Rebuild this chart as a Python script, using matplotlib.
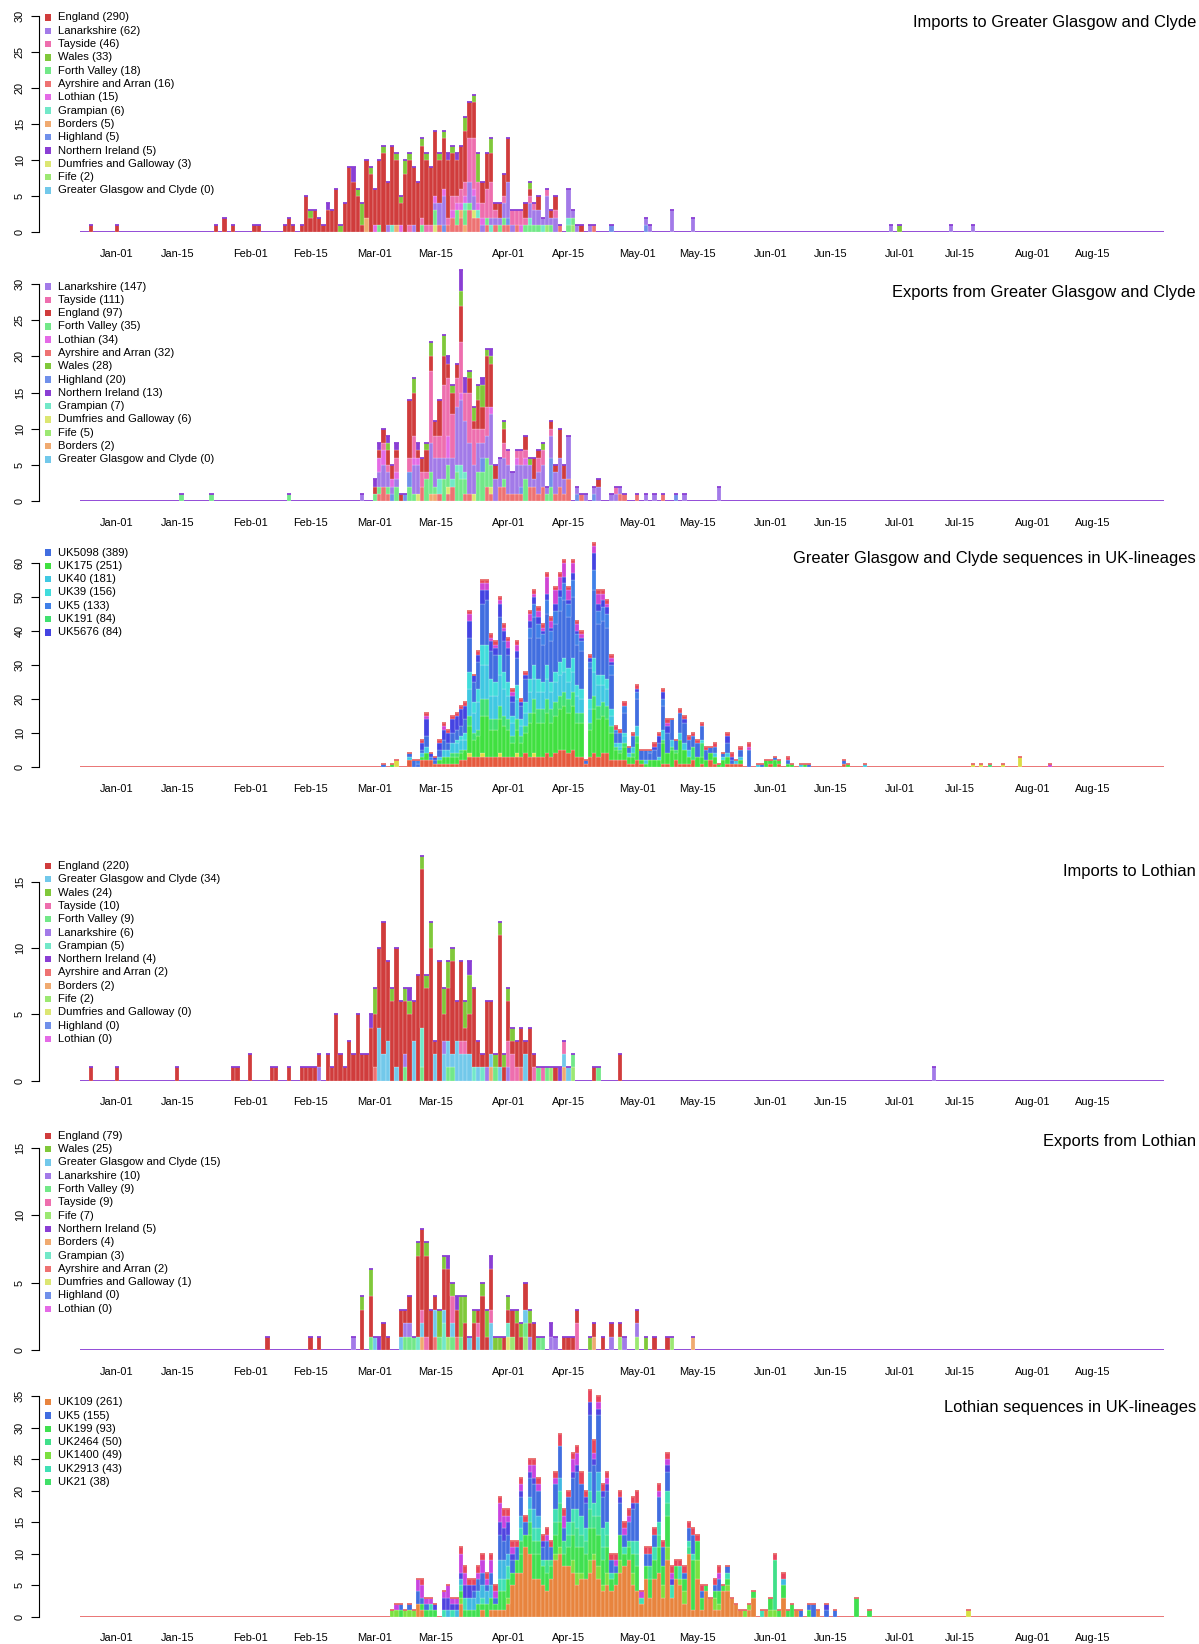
import numpy as np
import matplotlib
matplotlib.use("Agg")
import matplotlib.pyplot as plt
from matplotlib.patches import Rectangle

plt.rcParams['font.family'] = ['Liberation Sans', 'DejaVu Sans']

# ---------------- axis / labels data ----------------
tick_days = [0, 14, 31, 45, 60, 74, 91, 105, 121, 135, 152, 166, 182, 196, 213, 227]
tick_labels = ['Jan-01', 'Jan-15', 'Feb-01', 'Feb-15', 'Mar-01', 'Mar-15', 'Apr-01', 'Apr-15',
               'May-01', 'May-15', 'Jun-01', 'Jun-15', 'Jul-01', 'Jul-15', 'Aug-01', 'Aug-15']
DAY0, DAY1 = -8, 243   # day 0 = Jan-01 (2020)

titles = ["Imports to Greater Glasgow and Clyde",
          "Exports from Greater Glasgow and Clyde",
          "Greater Glasgow and Clyde sequences in UK-lineages",
          "Imports to Lothian",
          "Exports from Lothian",
          "Lothian sequences in UK-lineages"]

# ---------------- panel 1: imports to GGC (day: count) ----------------
p1_england = {-6: 1, 0: 1, 23: 1, 25: 2, 27: 1, 32: 1, 33: 1, 39: 1, 40: 2, 41: 1, 43: 1, 44: 5, 45: 2, 46: 3,
              47: 2, 48: 1, 49: 3, 50: 3, 51: 6, 53: 4, 54: 9, 55: 7, 56: 5, 57: 1, 58: 8, 59: 8, 60: 5, 61: 9,
              62: 11, 63: 6, 64: 11, 65: 9, 66: 3, 67: 8, 68: 9, 69: 8, 70: 7, 71: 10, 72: 9, 73: 8, 74: 9,
              75: 6, 76: 7, 77: 8, 78: 6, 79: 5, 80: 6, 81: 7, 82: 5, 83: 5, 85: 3, 86: 5, 87: 4, 88: 1, 89: 2,
              90: 3, 91: 6, 95: 2, 96: 1, 98: 2, 101: 1, 102: 2, 108: 1}
p1_lanarkshire = {63: 1, 69: 1, 74: 1, 75: 3, 76: 4, 82: 3, 83: 2, 85: 1, 87: 1, 88: 1, 89: 1, 90: 2, 91: 5,
                  92: 1, 96: 2, 97: 2, 98: 2, 99: 1, 100: 4, 101: 1, 102: 2, 105: 4, 106: 1, 107: 1, 110: 1,
                  123: 1, 124: 1, 129: 3, 134: 2, 180: 1, 194: 1, 199: 1}
p1_tayside = {68: 1, 71: 1, 72: 1, 73: 1, 77: 1, 78: 2, 79: 1, 80: 2, 81: 2, 82: 6, 83: 7, 84: 3, 85: 2, 86: 4,
              87: 5, 88: 1, 90: 1, 92: 2, 93: 2, 94: 2, 95: 1, 96: 1, 97: 1, 100: 1, 102: 1}
p1_wales = {45: 1, 52: 1, 56: 1, 57: 3, 59: 1, 62: 1, 65: 1, 66: 1, 67: 2, 68: 1, 71: 1, 72: 1, 75: 1, 76: 1,
            78: 1, 81: 2, 83: 1, 84: 4, 87: 2, 96: 1, 182: 1}
p1_forth_valley = {61: 1, 71: 1, 74: 2, 79: 2, 81: 2, 82: 1, 86: 1, 89: 1, 90: 1, 95: 1, 96: 1, 97: 1, 98: 1,
                   101: 1, 105: 1, 106: 1}
p1_ayrshire = {75: 1, 77: 1, 78: 2, 79: 1, 80: 2, 82: 3, 83: 2, 84: 2, 86: 1, 88: 1, 90: 1, 91: 1, 93: 1,
               103: 1, 111: 1}
p1_lothian = {60: 1, 66: 1, 74: 1, 76: 1, 78: 1, 79: 1, 80: 1, 81: 1, 83: 1, 84: 1, 85: 1, 94: 1}
p1_grampian = {64: 1, 81: 1, 84: 1, 87: 1, 96: 1, 99: 1, 105: 1}
p1_borders = {58: 2, 65: 1, 80: 1, 81: 1}
p1_highland = {76: 1, 91: 1, 115: 1, 123: 1}
p1_nireland = {49: 1, 55: 2, 77: 1, 79: 1}
p1_dumfries = {74: 1, 83: 1}
p1_fife = {100: 1, 106: 1}
p1_ggc = {}
p1_legend = ['England', 'Lanarkshire', 'Tayside', 'Wales', 'Forth Valley', 'Ayrshire and Arran', 'Lothian',
             'Grampian', 'Borders', 'Highland', 'Northern Ireland', 'Dumfries and Galloway', 'Fife',
             'Greater Glasgow and Clyde']
p1_counts = [290, 62, 46, 33, 18, 16, 15, 6, 5, 5, 5, 3, 2, 0]

# ---------------- panel 2: exports from GGC ----------------
p2_lanarkshire = {57: 1, 61: 2, 62: 3, 63: 2, 64: 1, 65: 1, 69: 4, 70: 4, 73: 4, 74: 4, 75: 3, 76: 3, 77: 1,
                  78: 3, 79: 8, 80: 9, 81: 7, 82: 7, 83: 4, 84: 4, 85: 2, 86: 3, 87: 7, 88: 3, 89: 4, 90: 3,
                  91: 4, 92: 3, 93: 4, 94: 3, 95: 2, 96: 3, 97: 1, 98: 3, 99: 3, 100: 1, 101: 3, 102: 3,
                  103: 4, 104: 2, 105: 6, 107: 1, 109: 1, 111: 1, 112: 2, 115: 1, 116: 1, 117: 1, 123: 1,
                  125: 1, 132: 1, 140: 2}
p2_tayside = {62: 1, 63: 1, 65: 2, 68: 2, 69: 3, 71: 2, 72: 1, 73: 10, 74: 3, 75: 3, 76: 10, 77: 8, 78: 6,
              79: 4, 80: 7, 81: 4, 82: 7, 83: 5, 84: 2, 85: 2, 86: 4, 90: 2, 91: 2, 93: 1, 94: 2, 95: 1,
              98: 2, 99: 2, 101: 1, 116: 1}
p2_england = {60: 1, 61: 1, 62: 2, 63: 2, 64: 2, 65: 1, 66: 1, 68: 8, 69: 6, 70: 1, 71: 2, 72: 3, 73: 2,
              74: 2, 75: 5, 76: 4, 77: 2, 78: 3, 79: 2, 80: 5, 82: 2, 83: 1, 84: 4, 85: 3, 86: 7, 87: 6,
              88: 2, 90: 2, 95: 2, 97: 3, 98: 1, 101: 1, 102: 1, 103: 4, 104: 2, 112: 1}
p2_forth_valley = {15: 1, 22: 1, 40: 1, 60: 1, 61: 1, 63: 1, 65: 2, 68: 2, 69: 1, 72: 3, 73: 3, 74: 1,
                   76: 3, 77: 3, 79: 4, 80: 3, 81: 2, 84: 4, 85: 4, 86: 4, 87: 3, 90: 1, 95: 3, 100: 1,
                   101: 2}
p2_lothian = {61: 2, 62: 2, 64: 1, 65: 1, 69: 1, 70: 1, 77: 3, 80: 1, 87: 1, 93: 1, 95: 1}
p2_ayrshire = {61: 1, 62: 2, 63: 1, 71: 2, 75: 1, 77: 1, 78: 2, 81: 1, 82: 1, 86: 2, 87: 1, 89: 2, 90: 2,
               91: 1, 92: 1, 93: 1, 94: 1, 96: 2, 97: 2, 98: 1, 99: 2, 102: 1, 103: 2, 104: 1, 105: 3,
               108: 1, 117: 1, 118: 1, 121: 1, 127: 1}
p2_wales = {63: 1, 69: 2, 72: 1, 73: 2, 76: 3, 78: 1, 80: 2, 82: 1, 83: 2, 84: 2, 85: 3, 86: 1, 87: 1,
            90: 1, 96: 1, 99: 1}
p2_highland = {64: 1, 67: 1, 68: 2, 85: 2, 94: 1, 101: 4, 107: 1, 111: 1, 130: 1}
p2_nireland = {60: 1, 61: 1, 63: 1, 65: 1, 70: 1, 77: 1, 80: 3, 81: 2, 85: 1, 87: 1}
p2_grampian = {75: 2, 78: 1, 79: 1, 80: 2, 81: 1}
p2_dumfries = {70: 1, 77: 1, 83: 1, 87: 1}
p2_fife = {}
p2_borders = {73: 1, 74: 1}
p2_ggc = {}
p2_legend = ['Lanarkshire', 'Tayside', 'England', 'Forth Valley', 'Lothian', 'Ayrshire and Arran', 'Wales',
             'Highland', 'Northern Ireland', 'Grampian', 'Dumfries and Galloway', 'Fife', 'Borders',
             'Greater Glasgow and Clyde']
p2_counts = [147, 111, 97, 35, 34, 32, 28, 20, 13, 7, 6, 5, 2, 0]

# ---------------- panel 3: GGC sequences in UK lineages ----------------
p3_other_low = {68: 2, 71: 2, 72: 2, 73: 2, 74: 1, 75: 1, 76: 1, 77: 1, 78: 1, 79: 1, 80: 2, 81: 2, 82: 3,
                83: 3, 84: 3, 85: 3, 86: 3, 87: 3, 88: 3, 89: 3, 90: 3, 91: 3, 92: 3, 93: 3, 94: 3, 95: 4,
                96: 3, 97: 3, 98: 3, 99: 3, 100: 4, 101: 3, 102: 4, 103: 5, 104: 5, 105: 4, 106: 5, 107: 3,
                108: 3, 109: 1, 110: 3, 111: 4, 112: 3, 113: 4, 114: 4, 115: 2, 116: 2, 117: 2, 118: 2,
                119: 1, 120: 1, 121: 2, 122: 1, 127: 1, 128: 1, 130: 2, 131: 1, 132: 1, 133: 1, 134: 2,
                136: 1, 138: 2, 139: 1, 142: 1, 143: 1, 144: 1, 145: 1, 152: 1, 154: 1, 169: 1}
p3_other_yel = {65: 2, 82: 1, 85: 1, 89: 1, 93: 1, 97: 1, 199: 1, 201: 1, 206: 1, 210: 3}
p3_uk175 = {64: 1, 71: 1, 72: 2, 75: 1, 76: 2, 77: 2, 78: 2, 79: 2, 80: 2, 81: 3, 82: 8, 83: 5, 84: 6,
            85: 11, 86: 12, 87: 8, 88: 8, 89: 10, 90: 9, 91: 8, 92: 4, 93: 7, 94: 4, 95: 6, 96: 10, 97: 12,
            98: 10, 99: 10, 100: 12, 101: 10, 102: 11, 103: 12, 104: 13, 105: 12, 106: 13, 107: 10,
            108: 10, 110: 8, 111: 13, 112: 11, 113: 11, 114: 10, 115: 8, 116: 3, 117: 2, 118: 4, 119: 2,
            120: 2, 121: 5, 122: 1, 123: 1, 124: 2, 125: 2, 126: 2, 127: 6, 128: 3, 129: 5, 130: 2,
            131: 7, 132: 4, 133: 2, 135: 3, 136: 2, 137: 2, 138: 2, 139: 2, 140: 1, 141: 2, 142: 2,
            145: 1, 151: 2, 152: 1, 153: 2, 154: 1, 156: 1, 157: 1, 160: 1, 170: 1}
p3_uk191 = {78: 1, 79: 1, 80: 1, 82: 3, 83: 2, 84: 2, 85: 5, 86: 5, 87: 3, 88: 3, 89: 4, 90: 3, 91: 3,
            92: 2, 93: 3, 94: 2, 95: 2, 96: 3, 97: 4, 98: 4, 99: 4, 100: 4, 101: 4, 102: 4, 103: 4,
            104: 4, 105: 4, 106: 4, 107: 3, 108: 3, 110: 2, 111: 4, 112: 4, 113: 4, 114: 4, 115: 2,
            116: 1, 117: 1, 118: 1, 120: 1, 121: 2, 127: 1, 129: 1, 130: 1, 134: 4, 136: 4, 203: 1}
p3_uk40 = {68: 1, 71: 1, 72: 2, 75: 1, 76: 2, 77: 2, 78: 3, 79: 3, 80: 3, 81: 3, 82: 8, 83: 6, 84: 8,
           85: 10, 86: 10, 87: 7, 88: 7, 89: 9, 90: 8, 91: 7, 92: 4, 93: 6, 94: 3, 95: 4, 96: 6, 97: 6,
           98: 5, 99: 5, 100: 6, 101: 5, 102: 6, 103: 6, 104: 6, 105: 5, 106: 6, 107: 5, 108: 4, 110: 4,
           111: 7, 112: 6, 113: 5, 114: 5, 115: 3, 116: 1, 117: 1, 118: 2, 119: 1, 120: 2, 121: 3,
           123: 1, 126: 1, 127: 3, 129: 2, 131: 2, 132: 2, 133: 2, 139: 1, 142: 1, 144: 1, 145: 1,
           149: 1, 159: 1, 174: 1}
p3_uk39 = {79: 1, 80: 1, 81: 2, 82: 5, 83: 3, 84: 4, 85: 6, 86: 6, 87: 5, 88: 4, 89: 6, 90: 5, 91: 4,
           92: 2, 93: 4, 94: 2, 95: 3, 96: 4, 97: 4, 98: 4, 99: 3, 100: 4, 101: 3, 102: 3, 103: 4,
           104: 4, 105: 4, 106: 4, 107: 3, 108: 3, 110: 3, 111: 4, 112: 3, 113: 3, 114: 3, 115: 2,
           117: 1, 118: 1, 136: 1, 141: 1}
p3_uk5098 = {62: 1, 68: 1, 69: 2, 70: 1, 71: 1, 72: 3, 74: 1, 75: 2, 76: 3, 77: 2, 78: 3, 79: 3, 80: 3,
             81: 4, 82: 10, 83: 6, 84: 8, 85: 12, 86: 13, 87: 8, 88: 8, 89: 11, 90: 9, 91: 8, 92: 4,
             93: 8, 94: 4, 95: 7, 96: 12, 97: 14, 98: 12, 99: 11, 100: 15, 101: 12, 102: 14, 103: 15,
             104: 17, 105: 15, 106: 18, 107: 12, 108: 11, 109: 1, 110: 9, 111: 20, 112: 15, 113: 16,
             114: 15, 115: 10, 116: 3, 117: 3, 118: 6, 119: 2, 120: 3, 121: 8, 122: 3, 123: 3, 124: 2,
             125: 3, 126: 4, 127: 7, 128: 6, 129: 6, 130: 3, 131: 6, 132: 6, 133: 3, 134: 3, 135: 4,
             136: 4, 137: 3, 138: 2, 139: 2, 141: 1, 142: 3, 143: 1, 145: 2, 147: 5, 150: 1, 153: 1,
             156: 1, 161: 1, 169: 1}
p3_uk5 = {70: 1, 73: 1, 96: 3, 97: 4, 98: 4, 99: 3, 100: 4, 101: 3, 102: 4, 103: 4, 104: 5, 105: 4,
          106: 5, 107: 3, 108: 3, 110: 2, 111: 6, 112: 4, 113: 4, 114: 4, 115: 3, 116: 1, 118: 2,
          121: 2, 124: 1, 127: 2}
p3_uk5676 = {71: 2, 72: 5, 73: 1, 74: 1, 75: 2, 76: 3, 77: 3, 78: 4, 79: 4, 80: 5, 81: 4, 82: 5, 83: 2,
             84: 2, 85: 4, 86: 3, 87: 3, 88: 2, 89: 4, 90: 3, 91: 2, 92: 2, 93: 2, 94: 1, 95: 1, 96: 2,
             97: 2, 98: 2, 99: 1, 100: 2, 101: 1, 102: 2, 103: 2, 104: 2, 105: 1, 106: 2, 107: 1,
             108: 1, 110: 1, 111: 5, 112: 2, 113: 2, 114: 2, 115: 1, 121: 1, 125: 1, 126: 2, 127: 2,
             128: 2, 132: 1, 142: 2, 143: 1}
p3_other_mag = {72: 1, 76: 1, 82: 2, 85: 2, 86: 2, 87: 1, 88: 1, 89: 1, 90: 1, 91: 2, 92: 1, 93: 2, 96: 2,
                97: 1, 98: 2, 99: 1, 100: 5, 101: 2, 102: 4, 103: 4, 104: 4, 105: 3, 106: 3, 107: 2,
                108: 1, 111: 2, 112: 3, 113: 2, 114: 1, 115: 1, 128: 1, 147: 1, 217: 1}
p3_other_red = {d: 1 for d in [71, 72, 75, 76, 77, 78, 79, 80, 81, 82, 84, 85, 86, 87, 88, 89, 90, 91, 92,
                               93, 94, 95, 96, 97, 98, 99, 100, 101, 102, 103, 104, 105, 106, 107, 108,
                               110, 111, 112, 113, 114, 115, 116, 117, 118, 120, 121, 125, 126, 127, 128,
                               131, 132, 133, 134, 135, 136, 137, 139, 142, 143, 145, 147, 156]}
p3_legend = ['UK5098', 'UK175', 'UK40', 'UK39', 'UK5', 'UK191', 'UK5676']
p3_counts = [389, 251, 181, 156, 133, 84, 84]

# ---------------- panel 4: imports to Lothian ----------------
p4_england = {-6: 1, 0: 1, 14: 1, 27: 1, 28: 1, 31: 2, 36: 1, 37: 1, 40: 1, 43: 1, 44: 1, 45: 1, 46: 1,
              47: 1, 49: 2, 50: 1, 51: 5, 52: 2, 53: 1, 54: 3, 55: 2, 56: 5, 57: 2, 58: 2, 59: 4, 60: 4,
              61: 6, 62: 10, 63: 6, 64: 6, 65: 9, 66: 6, 67: 4, 68: 5, 69: 3, 70: 8, 71: 12, 72: 7,
              73: 10, 74: 1, 75: 9, 76: 2, 77: 4, 78: 7, 79: 3, 80: 6, 81: 1, 82: 3, 83: 6, 84: 2, 85: 1,
              86: 5, 87: 4, 89: 10, 90: 1, 91: 3, 92: 1, 93: 2, 94: 3, 95: 1, 96: 4, 97: 1, 102: 1,
              111: 1, 117: 2}
p4_ggc = {61: 4, 62: 2, 63: 3, 65: 1, 69: 3, 74: 2, 76: 2, 77: 2, 78: 1, 79: 3, 80: 2, 81: 2, 82: 2, 84: 1,
          87: 1, 89: 1, 95: 2, 104: 1, 105: 1}
p4_wales = {60: 2, 64: 1, 67: 1, 68: 1, 71: 1, 72: 1, 73: 2, 76: 2, 77: 2, 78: 1, 81: 2, 82: 3, 88: 1,
            89: 1, 90: 1, 91: 1, 92: 1}
p4_tayside = {80: 1, 81: 1, 91: 2, 92: 2, 93: 1, 97: 1, 99: 1, 104: 1}
p4_forth_valley = {67: 1, 71: 1, 77: 1, 78: 1, 88: 1, 98: 1, 100: 1, 106: 1, 112: 1}
p4_lanarkshire = {47: 1, 67: 1, 76: 1, 86: 1, 91: 1, 190: 1}
p4_grampian = {71: 3, 83: 1, 85: 1}
p4_nireland = {59: 1, 68: 1, 82: 1, 103: 1}
p4_ayrshire = {60: 1, 94: 1}
p4_borders = {87: 1, 104: 1}
p4_fife = {101: 1, 106: 1}
p4_dumfries = {}
p4_highland = {}
p4_lothian = {}
p4_legend = ['England', 'Greater Glasgow and Clyde', 'Wales', 'Tayside', 'Forth Valley', 'Lanarkshire',
             'Grampian', 'Northern Ireland', 'Ayrshire and Arran', 'Borders', 'Fife',
             'Dumfries and Galloway', 'Highland', 'Lothian']
p4_counts = [220, 34, 24, 10, 9, 6, 5, 4, 2, 2, 2, 0, 0, 0]

# ---------------- panel 5: exports from Lothian ----------------
p5_england = {35: 1, 45: 1, 47: 1, 57: 3, 59: 3, 62: 2, 63: 1, 66: 2, 67: 1, 68: 2, 70: 6, 71: 6, 72: 6,
              73: 3, 74: 1, 76: 3, 77: 5, 79: 2, 81: 2, 83: 2, 84: 1, 85: 4, 86: 1, 87: 3, 90: 1, 91: 1,
              92: 2, 93: 2, 94: 1, 95: 2, 96: 1, 97: 2, 104: 1, 105: 1, 106: 1, 107: 1, 111: 1, 113: 1,
              115: 1, 117: 1, 121: 1, 125: 1, 128: 1}
p5_wales = {57: 1, 59: 2, 70: 1, 72: 1, 75: 2, 76: 1, 78: 1, 80: 3, 81: 2, 83: 1, 85: 1, 86: 2, 88: 1,
            89: 1, 91: 1, 93: 1, 94: 1, 96: 1, 110: 1, 123: 1}
p5_ggc = {60: 1, 66: 1, 71: 1, 74: 2, 76: 1, 78: 1, 82: 1, 84: 1, 87: 2, 95: 1}
p5_lanarkshire = {55: 1, 67: 1, 68: 1, 96: 1, 101: 1, 102: 1, 115: 1, 118: 1, 121: 1}
p5_forth_valley = {59: 1, 67: 1, 68: 1, 69: 1, 75: 1, 78: 1, 80: 1, 95: 1, 98: 1, 99: 1}
p5_tayside = {71: 1, 72: 1, 78: 2, 84: 1, 87: 1, 107: 2}
p5_fife = {77: 1, 92: 1, 95: 1, 117: 1, 121: 1, 129: 1}
p5_nireland = {61: 1, 77: 1, 79: 1, 87: 1, 101: 1}
p5_borders = {71: 1, 111: 1, 134: 1}
p5_grampian = {70: 1, 76: 2, 91: 1}
p5_ayrshire = {74: 1, 79: 1}
p5_dumfries = {91: 1}
p5_highland = {}
p5_lothian = {}
p5_legend = ['England', 'Wales', 'Greater Glasgow and Clyde', 'Lanarkshire', 'Forth Valley', 'Tayside',
             'Fife', 'Northern Ireland', 'Borders', 'Grampian', 'Ayrshire and Arran',
             'Dumfries and Galloway', 'Highland', 'Lothian']
p5_counts = [79, 25, 15, 10, 9, 9, 7, 5, 4, 3, 2, 1, 0, 0]

# ---------------- panel 6: Lothian sequences in UK lineages ----------------
p6_uk109 = {70: 2, 71: 1, 80: 2, 85: 1, 87: 1, 88: 1, 89: 1, 90: 1, 91: 2, 92: 5, 93: 7, 94: 7, 95: 11,
            96: 10, 97: 6, 98: 6, 99: 5, 100: 4, 101: 6, 102: 9, 103: 10, 104: 8, 105: 8, 106: 7, 107: 5,
            108: 6, 109: 6, 110: 7, 111: 9, 112: 6, 113: 4, 114: 5, 115: 4, 116: 5, 117: 7, 118: 8,
            119: 9, 120: 5, 121: 4, 122: 2, 123: 6, 124: 3, 125: 6, 126: 7, 127: 3, 128: 9, 129: 3,
            130: 6, 131: 5, 132: 2, 133: 10, 134: 1, 135: 6, 136: 1, 137: 4, 138: 3, 139: 1, 140: 1,
            141: 4, 142: 4, 143: 3, 144: 2, 145: 1, 147: 1, 148: 3, 151: 1, 155: 3, 158: 1, 163: 1}
p6_uk1400 = {64: 1, 65: 1, 67: 1, 68: 1, 69: 1, 80: 1, 91: 1, 102: 1, 103: 1, 106: 2, 107: 2, 108: 1,
             110: 2, 111: 1, 112: 2, 113: 1, 114: 2, 117: 2, 120: 2, 127: 2, 128: 2, 131: 1, 132: 2,
             135: 3, 139: 2, 140: 1, 142: 1, 146: 1, 147: 1, 152: 1, 153: 1}
p6_uk199 = {66: 1, 71: 1, 72: 1, 73: 1, 74: 1, 80: 1, 81: 1, 82: 1, 83: 1, 84: 2, 85: 1, 86: 2, 87: 2,
            88: 1, 89: 3, 90: 3, 91: 3, 92: 2, 93: 2, 94: 3, 95: 2, 96: 3, 97: 4, 98: 4, 99: 3, 100: 3,
            101: 2, 102: 3, 103: 4, 104: 2, 105: 3, 106: 4, 107: 4, 108: 4, 109: 4, 110: 5, 111: 4,
            112: 5, 113: 4, 114: 4, 115: 2, 116: 2, 117: 4, 118: 2, 119: 2, 120: 3, 121: 4, 123: 2,
            124: 3, 125: 3, 126: 4, 127: 3, 128: 5, 130: 2, 132: 2, 134: 8, 135: 3, 136: 2, 137: 1,
            139: 1, 140: 2, 141: 1, 142: 1, 148: 1, 152: 2, 154: 1, 155: 2, 156: 1, 157: 2, 161: 1,
            172: 3, 175: 1}
p6_uk21 = {94: 2, 96: 2, 97: 2, 98: 2}
p6_uk2464 = {100: 2, 101: 1, 102: 2, 103: 3, 104: 2, 105: 2, 106: 2, 107: 3, 108: 2, 109: 2, 110: 3,
             111: 2, 112: 3, 113: 2, 114: 2, 119: 1, 121: 2, 124: 2, 126: 2, 128: 2, 133: 1, 153: 8}
p6_uk2913 = {73: 1, 76: 1, 78: 1, 80: 1, 81: 2, 85: 1, 89: 2, 90: 2, 91: 2, 94: 2, 96: 2, 97: 2, 98: 2,
             99: 1, 102: 2, 103: 2, 105: 2, 106: 2, 107: 3, 108: 3, 109: 2, 110: 3, 111: 2, 112: 4,
             113: 3, 114: 2, 115: 1, 118: 1, 120: 2, 121: 2, 122: 1, 125: 2, 126: 2, 128: 2, 129: 2,
             131: 2, 133: 1, 134: 1, 142: 1, 150: 1}
p6_other_cyan = {77: 1, 79: 1, 80: 1, 82: 2, 83: 2, 84: 2, 85: 2, 86: 2, 87: 2, 89: 3, 90: 3, 91: 2, 94: 2,
                 96: 2, 97: 3, 98: 2, 103: 2, 110: 3, 112: 3, 155: 1}
p6_uk5 = {66: 1, 68: 1, 70: 2, 71: 1, 72: 1, 83: 1, 84: 2, 85: 2, 86: 1, 87: 2, 88: 1, 89: 4, 90: 3,
          91: 3, 92: 2, 93: 2, 94: 3, 95: 2, 96: 3, 97: 4, 98: 4, 99: 2, 100: 3, 101: 2, 102: 4, 103: 5,
          104: 2, 105: 4, 106: 5, 107: 6, 108: 5, 109: 4, 110: 9, 111: 6, 112: 9, 113: 5, 114: 5,
          115: 2, 116: 1, 117: 5, 118: 2, 119: 3, 120: 5, 121: 6, 123: 2, 124: 2, 125: 2, 126: 4,
          127: 3, 128: 3, 132: 1, 133: 2, 134: 3, 136: 1, 139: 1, 140: 2, 142: 1, 159: 1, 161: 1,
          162: 2, 165: 1, 167: 1}
p6_other_indigo = {74: 1, 76: 2, 77: 2, 78: 1, 79: 1, 80: 1, 81: 2, 82: 2, 83: 1, 89: 2, 90: 2, 91: 2,
                   92: 1, 94: 1, 96: 1, 97: 1, 99: 1, 106: 1, 107: 1, 109: 1, 110: 2, 111: 1, 112: 1,
                   113: 1, 114: 1, 117: 1, 120: 1, 128: 1, 129: 1, 165: 1}
p6_other_mag = {65: 1, 70: 2, 71: 2, 72: 1, 73: 1, 76: 1, 77: 2, 78: 1, 79: 1, 80: 3, 81: 2, 84: 1, 85: 2,
                86: 1, 87: 2, 88: 1, 89: 3, 90: 2, 91: 1, 92: 1, 94: 1, 96: 1, 97: 2, 98: 1, 100: 1,
                102: 1, 104: 2, 106: 2, 107: 2, 111: 1, 112: 1, 114: 1, 116: 1, 118: 1, 119: 1, 122: 1,
                126: 1, 128: 1, 129: 1, 140: 1}
p6_other_red = {71: 1, 80: 1, 81: 1, 82: 1, 83: 1, 84: 1, 85: 1, 86: 1, 87: 1, 88: 1, 89: 1, 90: 1, 91: 1,
                92: 1, 93: 1, 94: 1, 95: 1, 96: 1, 97: 1, 98: 1, 99: 1, 100: 1, 101: 1, 102: 1, 103: 2,
                104: 1, 105: 1, 106: 1, 107: 1, 108: 2, 109: 1, 110: 2, 111: 2, 112: 1, 113: 1, 114: 1,
                115: 1, 116: 1, 117: 1, 118: 1, 119: 1, 120: 1, 121: 2, 123: 1, 124: 1, 125: 1, 126: 1,
                127: 1, 128: 1, 129: 1, 130: 1, 131: 1, 132: 1, 133: 1, 134: 1, 135: 1, 136: 1, 139: 1,
                140: 1, 153: 1, 155: 1}
p6_other_yel = {198: 1}
p6_legend = ['UK109', 'UK5', 'UK199', 'UK2464', 'UK1400', 'UK2913', 'UK21']
p6_counts = [261, 155, 93, 50, 49, 43, 38]

# ---------------- styles ----------------
REG_COL = {
    'England': '#D03C3C', 'Lanarkshire': '#A27AE8', 'Tayside': '#EE6EAE', 'Wales': '#80C83A',
    'Forth Valley': '#72E888', 'Ayrshire and Arran': '#EE7272', 'Lothian': '#E46AE6',
    'Grampian': '#72E8C8', 'Borders': '#F0AA70', 'Highland': '#7090EA', 'Northern Ireland': '#8A3ED4',
    'Dumfries and Galloway': '#DCE672', 'Fife': '#9CE872', 'Greater Glasgow and Clyde': '#72C8EA'}
REG_STACK = ['Ayrshire and Arran', 'Borders', 'Dumfries and Galloway', 'Fife', 'Forth Valley', 'Grampian',
             'Greater Glasgow and Clyde', 'Highland', 'Lanarkshire', 'Lothian', 'Tayside', 'England',
             'Wales', 'Northern Ireland']
LIN3_COL = {'low': '#E65A3E', 'yel': '#DCDC44', 'UK175': '#40E040', 'UK191': '#40E070', 'UK40': '#40C8E2',
            'UK39': '#40DCDC', 'UK5098': '#416EE0', 'UK5': '#4080E8', 'UK5676': '#4444E2',
            'mag': '#D044D4', 'red': '#E8445C'}
LIN6_COL = {'UK109': '#E8843E', 'UK1400': '#7CE040', 'UK199': '#40E050', 'UK21': '#40E068',
            'UK2464': '#40E08A', 'UK2913': '#40E0B4', 'cyan': '#40B8E2', 'UK5': '#416EE0',
            'indigo': '#5044E0', 'mag': '#C844E0', 'red': '#E8445C', 'yel': '#D8E044'}

W, H, DPI = 1199, 1644, 100
fig = plt.figure(figsize=(W / DPI, H / DPI), dpi=DPI)
days = np.arange(DAY0, DAY1 + 1)
PX0, PXD = 117.0, 4.30
AX_LEFT = PX0 + PXD * (DAY0 - 0.5)
AX_RIGHT = PX0 + PXD * (DAY1 + 0.5)
AX_H = 236.0


def make_axes(zero_px, ppu, ytop, ystep, title):
    ax = fig.add_axes([AX_LEFT / W, 1 - zero_px / H, (AX_RIGHT - AX_LEFT) / W, AX_H / H])
    ax.set_xlim(DAY0 - 0.5, DAY1 + 0.5)
    ax.set_ylim(0, AX_H / ppu)
    for s in ['top', 'right', 'bottom']:
        ax.spines[s].set_visible(False)
    ax.spines['left'].set_position(('outward', (AX_LEFT - 39) * 0.72))
    ax.spines['left'].set_bounds(0, ytop)
    ax.spines['left'].set_linewidth(0.8)
    ax.set_yticks(np.arange(0, ytop + 1, ystep))
    ax.tick_params(axis='y', length=5.8, width=0.8, labelsize=7.8, pad=4.5, labelrotation=90)
    for lab in ax.get_yticklabels():
        lab.set_va('center')
    ax.set_xticks(tick_days, tick_labels)
    ax.tick_params(axis='x', length=0, labelsize=7.9, pad=12)
    ax.patch.set_alpha(0)
    fig.text(1196 / W, 1 - (zero_px - 209) / H, title, ha='right', va='center', fontsize=11.9)
    return ax


def draw_stack(ax, series, colors, topcolor):
    bottom = np.zeros(len(days))
    for s, c in zip(series, colors):
        vals = np.zeros(len(days))
        for d, v in s.items():
            vals[d - DAY0] += v
        m = vals > 0
        ax.bar(days[m], vals[m], bottom=bottom[m], width=1.0, color=c,
               edgecolor=(1, 1, 1, 0.45), linewidth=0.35)
        bottom += vals
    ax.hlines(bottom, days - 0.5, days + 0.5, color=topcolor, lw=1.3, zorder=3)


def draw_legend(zero_px, names, counts, colors):
    y0 = zero_px - 214.5
    for i, (n, c, col) in enumerate(zip(names, counts, colors)):
        y = y0 + i * 13.3
        fig.add_artist(Rectangle(((48 - 3.2) / W, 1 - (y + 3.2) / H), 6.4 / W, 6.4 / H,
                                 transform=fig.transFigure, facecolor=col, edgecolor='none'))
        fig.text(58 / W, 1 - y / H, f"{n} ({c})", ha='left', va='center', fontsize=8.1)


def region_panel(zero_px, ppu, ytop, ystep, title, series_map, legend, counts):
    ax = make_axes(zero_px, ppu, ytop, ystep, title)
    draw_stack(ax, [series_map[r] for r in REG_STACK], [REG_COL[r] for r in REG_STACK],
               REG_COL['Northern Ireland'])
    draw_legend(zero_px, legend, counts, [REG_COL[r] for r in legend])


p1_map = {'England': p1_england, 'Lanarkshire': p1_lanarkshire, 'Tayside': p1_tayside, 'Wales': p1_wales,
          'Forth Valley': p1_forth_valley, 'Ayrshire and Arran': p1_ayrshire, 'Lothian': p1_lothian,
          'Grampian': p1_grampian, 'Borders': p1_borders, 'Highland': p1_highland,
          'Northern Ireland': p1_nireland, 'Dumfries and Galloway': p1_dumfries, 'Fife': p1_fife,
          'Greater Glasgow and Clyde': p1_ggc}
p2_map = {'England': p2_england, 'Lanarkshire': p2_lanarkshire, 'Tayside': p2_tayside, 'Wales': p2_wales,
          'Forth Valley': p2_forth_valley, 'Ayrshire and Arran': p2_ayrshire, 'Lothian': p2_lothian,
          'Grampian': p2_grampian, 'Borders': p2_borders, 'Highland': p2_highland,
          'Northern Ireland': p2_nireland, 'Dumfries and Galloway': p2_dumfries, 'Fife': p2_fife,
          'Greater Glasgow and Clyde': p2_ggc}
p4_map = {'England': p4_england, 'Lanarkshire': p4_lanarkshire, 'Tayside': p4_tayside, 'Wales': p4_wales,
          'Forth Valley': p4_forth_valley, 'Ayrshire and Arran': p4_ayrshire, 'Lothian': p4_lothian,
          'Grampian': p4_grampian, 'Borders': p4_borders, 'Highland': p4_highland,
          'Northern Ireland': p4_nireland, 'Dumfries and Galloway': p4_dumfries, 'Fife': p4_fife,
          'Greater Glasgow and Clyde': p4_ggc}
p5_map = {'England': p5_england, 'Lanarkshire': p5_lanarkshire, 'Tayside': p5_tayside, 'Wales': p5_wales,
          'Forth Valley': p5_forth_valley, 'Ayrshire and Arran': p5_ayrshire, 'Lothian': p5_lothian,
          'Grampian': p5_grampian, 'Borders': p5_borders, 'Highland': p5_highland,
          'Northern Ireland': p5_nireland, 'Dumfries and Galloway': p5_dumfries, 'Fife': p5_fife,
          'Greater Glasgow and Clyde': p5_ggc}

region_panel(232.0, 7.2, 30, 5, titles[0], p1_map, p1_legend, p1_counts)
region_panel(501.0, 7.23, 30, 5, titles[1], p2_map, p2_legend, p2_counts)

# panel 3
ax3 = make_axes(767.0, 3.40, 60, 10, titles[2])
p3_series = [p3_other_low, p3_other_yel, p3_uk175, p3_uk191, p3_uk40, p3_uk39, p3_uk5098, p3_uk5,
             p3_uk5676, p3_other_mag, p3_other_red]
p3_cols = [LIN3_COL[k] for k in ['low', 'yel', 'UK175', 'UK191', 'UK40', 'UK39', 'UK5098', 'UK5',
                                 'UK5676', 'mag', 'red']]
draw_stack(ax3, p3_series, p3_cols, '#E86A6A')
draw_legend(767.0, p3_legend, p3_counts, [LIN3_COL[k] for k in p3_legend])

region_panel(1080.5, 13.23, 15, 5, titles[3], p4_map, p4_legend, p4_counts)
region_panel(1350.3, 13.52, 15, 5, titles[4], p5_map, p5_legend, p5_counts)

# panel 6
ax6 = make_axes(1616.7, 6.306, 35, 5, titles[5])
p6_series = [p6_uk109, p6_other_yel, p6_uk1400, p6_uk199, p6_uk21, p6_uk2464, p6_uk2913, p6_other_cyan,
             p6_uk5, p6_other_indigo, p6_other_mag, p6_other_red]
p6_cols = [LIN6_COL[k] for k in ['UK109', 'yel', 'UK1400', 'UK199', 'UK21', 'UK2464', 'UK2913', 'cyan',
                                 'UK5', 'indigo', 'mag', 'red']]
draw_stack(ax6, p6_series, p6_cols, '#E86A6A')
draw_legend(1616.7, p6_legend, p6_counts, [LIN6_COL[k] for k in p6_legend])

fig.savefig('out.png', dpi=DPI, facecolor='white')
